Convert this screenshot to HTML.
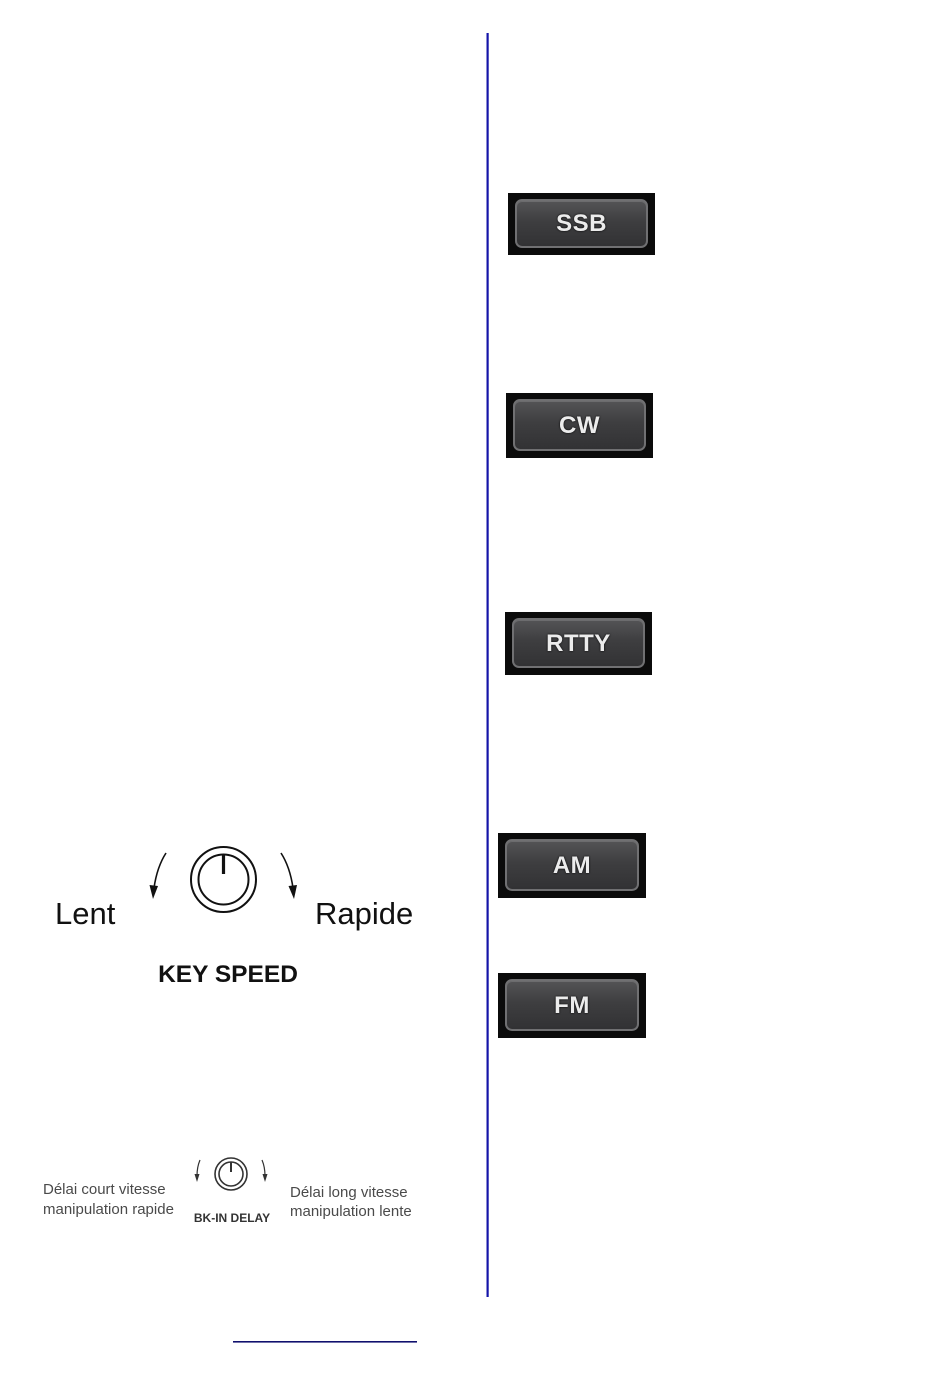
<!DOCTYPE html>
<html>
<head>
<meta charset="utf-8">
<style>
  html,body{margin:0;padding:0;background:#fff;}
  body{width:950px;height:1378px;position:relative;overflow:hidden;font-family:"Liberation Sans",Arial,sans-serif;}
  .btn{position:absolute;width:147px;height:63px;background:#0b0b0b;}
  .btn .in{position:absolute;left:7px;top:6px;right:7px;bottom:7px;border-radius:7px;
    border:2px solid #707072;background:linear-gradient(#545456 0%,#3e3e40 45%,#323234 100%);
    box-shadow:inset 0 1px 0 rgba(255,255,255,0.15);}
  .btn .t{position:absolute;left:0;right:0;top:0;bottom:0;display:flex;align-items:center;justify-content:center;
    font-weight:bold;font-size:24px;color:#ececec;text-shadow:0 0 2px #000;letter-spacing:0.5px;}
  svg{position:absolute;left:0;top:0;}
</style>
</head>
<body>
<svg width="950" height="1378" viewBox="0 0 950 1378">
  <!-- vertical divider -->
  <rect x="486.5" y="33" width="2.2" height="1264" fill="#1414a8"/>
  <!-- bottom link underline -->
  <rect x="233" y="1341" width="184" height="1.6" fill="#10106e"/>

  <!-- KEY SPEED knob -->
  <circle cx="223.5" cy="879.5" r="32.5" fill="none" stroke="#111" stroke-width="2"/>
  <circle cx="223.5" cy="879.5" r="25" fill="none" stroke="#111" stroke-width="2"/>
  <line x1="223.5" y1="854" x2="223.5" y2="874" stroke="#111" stroke-width="3.2"/>
  <!-- arrows -->
  <path d="M166 853 Q157 867 154 888" fill="none" stroke="#111" stroke-width="1.6"/>
  <polygon points="149.5,885 158,886 153,899" fill="#111"/>
  <path d="M281 853 Q290 867 293 888" fill="none" stroke="#111" stroke-width="1.6"/>
  <polygon points="288.5,886 297,885 294,899" fill="#111"/>
  <text x="55" y="924" font-family="Liberation Sans, Arial, sans-serif" font-size="31" fill="#111">Lent</text>
  <text x="315" y="924" font-family="Liberation Sans, Arial, sans-serif" font-size="31" fill="#111">Rapide</text>
  <text x="228" y="982" text-anchor="middle" font-family="Liberation Sans, Arial, sans-serif" font-size="24.5" font-weight="bold" fill="#111">KEY SPEED</text>

  <!-- BK-IN DELAY knob -->
  <circle cx="231" cy="1174" r="16" fill="none" stroke="#333" stroke-width="1.6"/>
  <circle cx="231" cy="1174" r="12" fill="none" stroke="#333" stroke-width="1.6"/>
  <line x1="231" y1="1162" x2="231" y2="1172" stroke="#333" stroke-width="2"/>
  <path d="M200 1160 Q197 1167 197 1176" fill="none" stroke="#333" stroke-width="1.2"/>
  <polygon points="194.5,1174 199.5,1174 197,1182" fill="#333"/>
  <path d="M262 1160 Q265 1167 265 1176" fill="none" stroke="#333" stroke-width="1.2"/>
  <polygon points="262.5,1174 267.5,1174 265,1182" fill="#333"/>

  <g font-family="Liberation Sans, Arial, sans-serif" font-size="15" fill="#4a4a4a">
    <text x="43" y="1194">Délai court vitesse</text>
    <text x="43" y="1214">manipulation rapide</text>
    <text x="290" y="1197">Délai long vitesse</text>
    <text x="290" y="1216">manipulation lente</text>
  </g>
  <text x="232" y="1222" text-anchor="middle" font-family="Liberation Sans, Arial, sans-serif" font-size="12" font-weight="bold" fill="#333">BK-IN DELAY</text>
</svg>

<div class="btn" style="left:508px;top:193px;height:62px;"><div class="in"></div><div class="t">SSB</div></div>
<div class="btn" style="left:506px;top:393px;height:65px;"><div class="in"></div><div class="t">CW</div></div>
<div class="btn" style="left:505px;top:612px;"><div class="in"></div><div class="t">RTTY</div></div>
<div class="btn" style="left:498px;top:833px;height:65px;width:148px;"><div class="in"></div><div class="t">AM</div></div>
<div class="btn" style="left:498px;top:973px;height:65px;width:148px;"><div class="in"></div><div class="t">FM</div></div>
</body>
</html>
